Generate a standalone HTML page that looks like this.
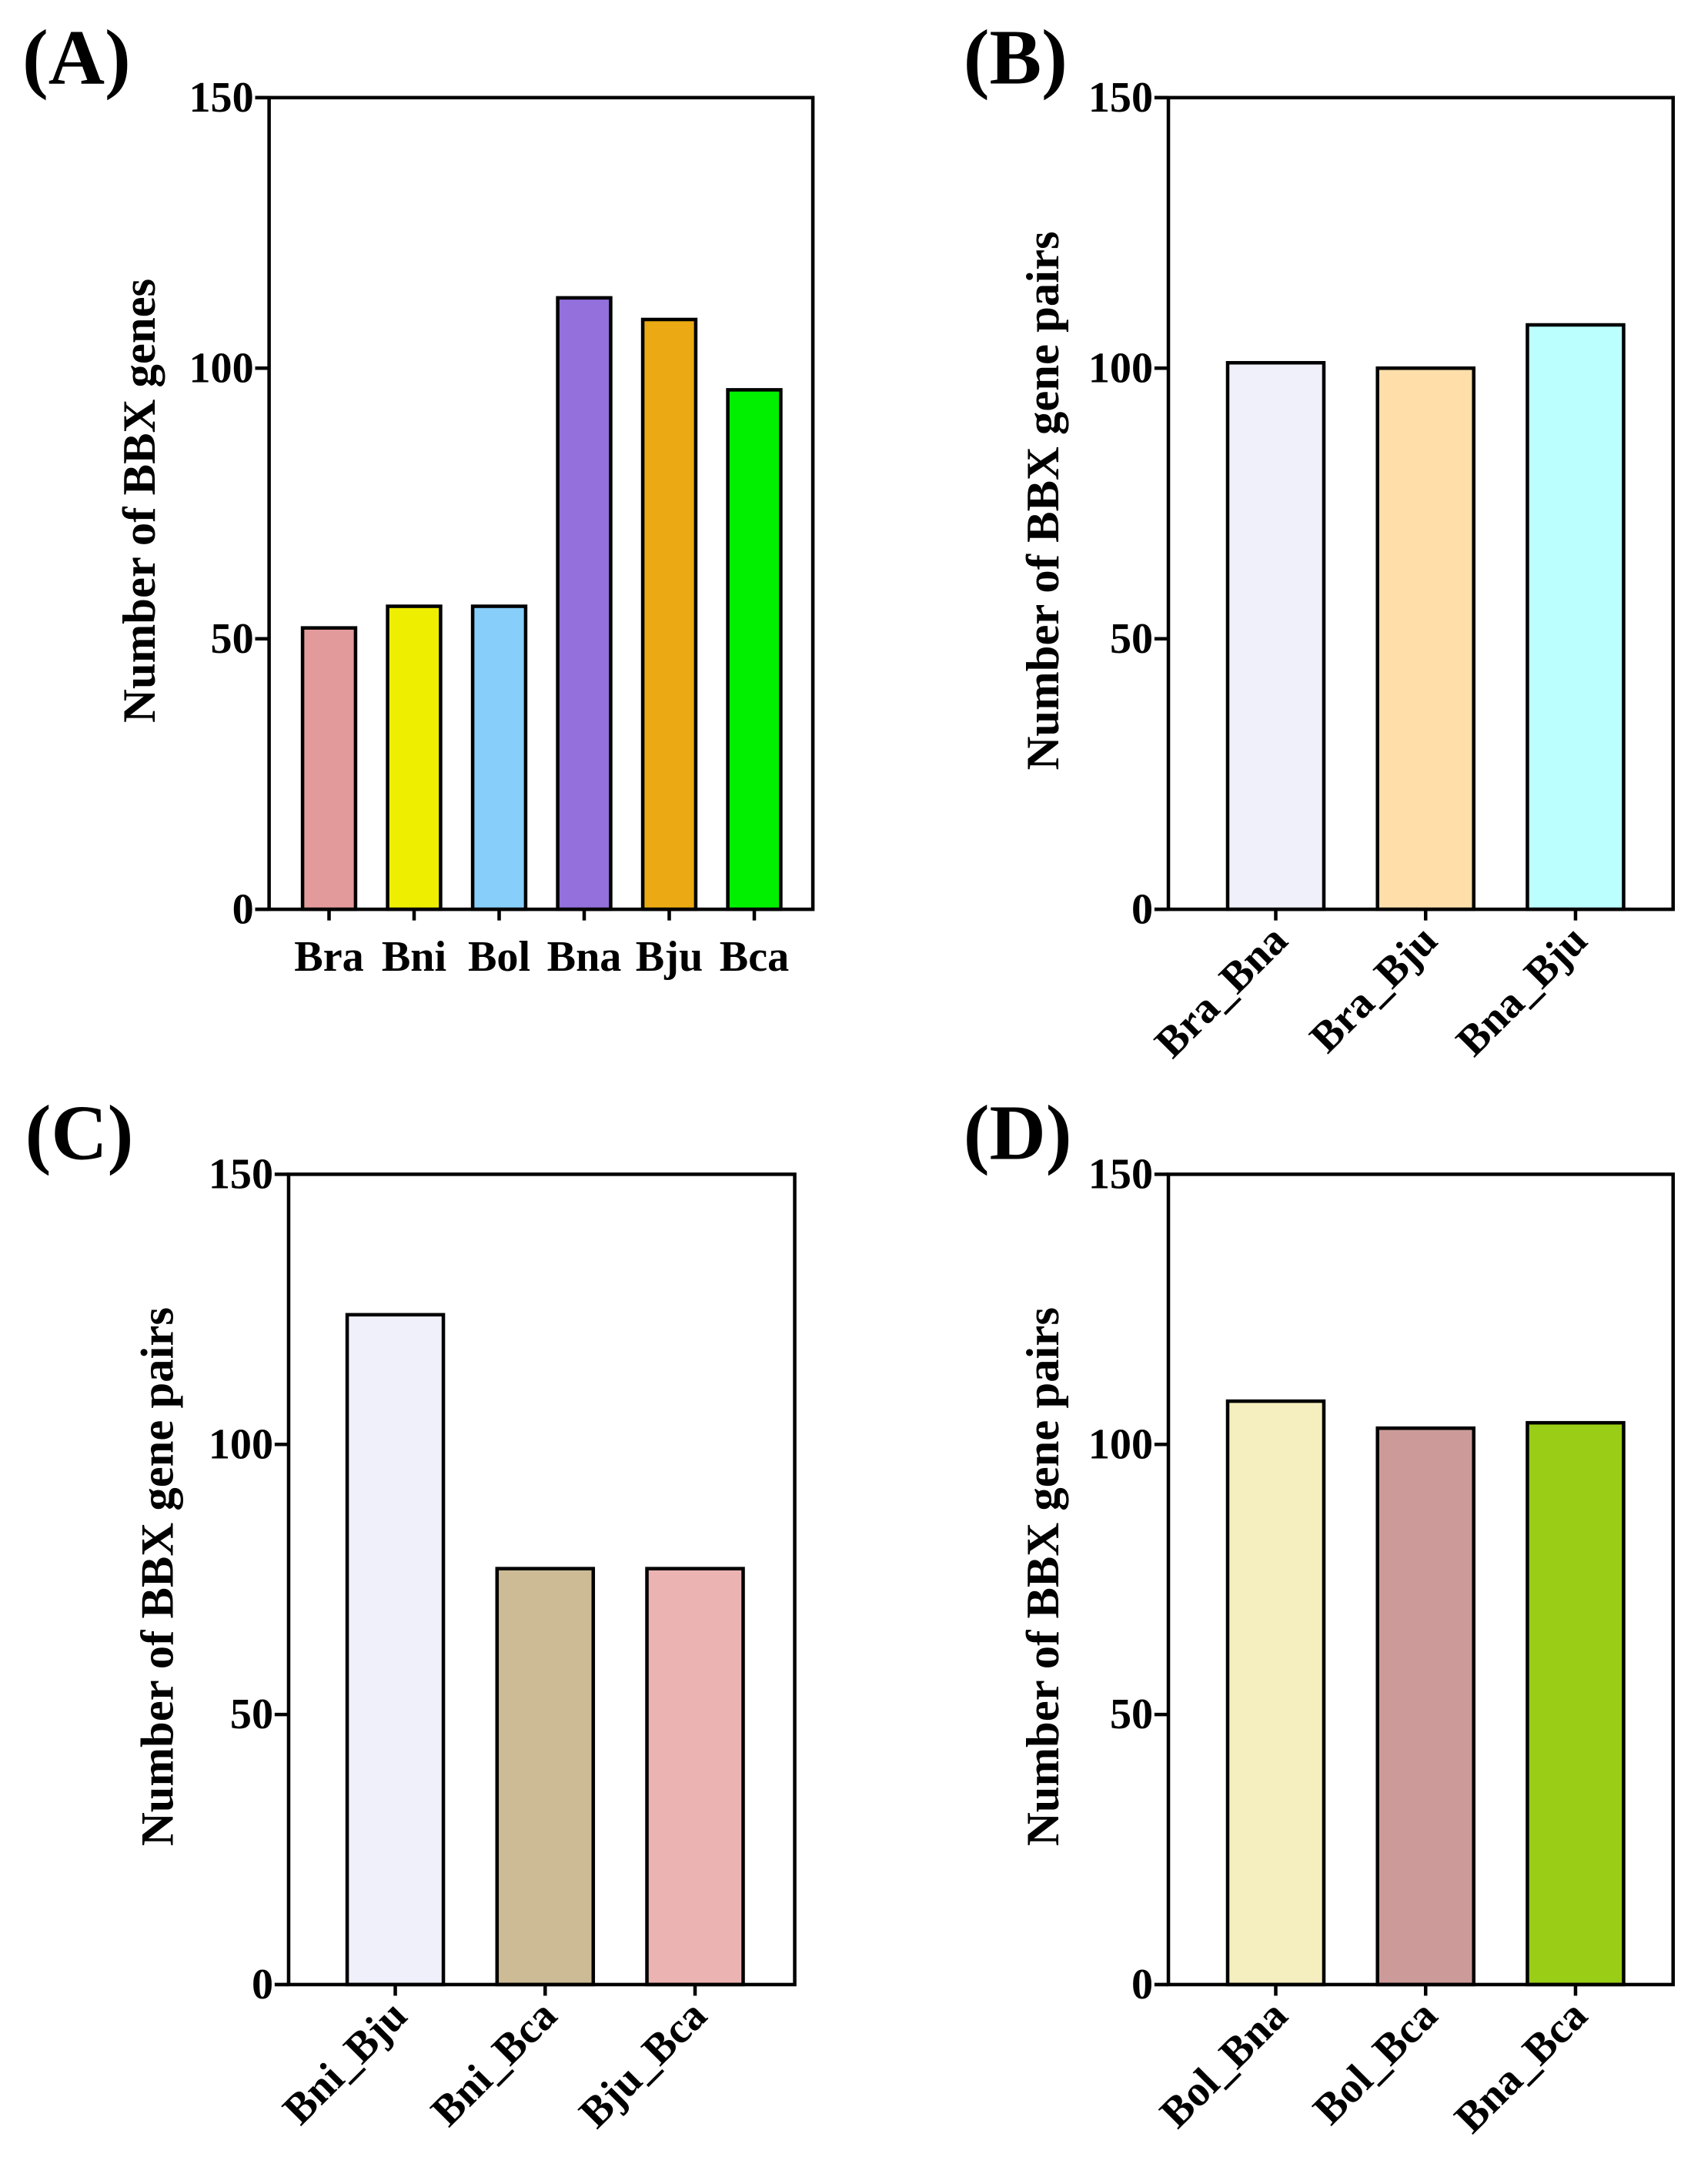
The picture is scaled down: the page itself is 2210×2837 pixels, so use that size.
<!DOCTYPE html>
<html><head><meta charset="utf-8"><style>
html,body{margin:0;padding:0;background:#fff}
svg{display:block}
text{font-family:"Liberation Serif",serif;font-weight:bold;fill:#000}
</style></head><body>
<svg id="fig" width="2210" height="2837" viewBox="0 0 1220 1566" preserveAspectRatio="none"></svg>
<script>
const catsA=["Bra","Bni","Bol","Bna","Bju","Bca"];
const valsA=[52,56,56,113,109,96];
const colsA=["#E39A9A","#EEEE00","#87CEFA","#9370DB","#EBAA14","#00F000"];
const catsB=["Bra_Bna","Bra_Bju","Bna_Bju"];
const valsB=[101,100,108];
const colsB=["#F0F0FA","#FFDEAA","#BBFFFF"];
const catsC=["Bni_Bju","Bni_Bca","Bju_Bca"];
const valsC=[124,77,77];
const colsC=["#F0F0FA","#CDBB96","#ECB3B3"];
const catsD=["Bol_Bna","Bol_Bca","Bna_Bca"];
const valsD=[108,103,104];
const colsD=["#F5EEBE","#CD9A9A","#9ACD15"];
const ticks=[0,50,100,150];
const NS="http://www.w3.org/2000/svg";
const svg=document.getElementById('fig');
function mk(tag,attrs,parent){const e=document.createElementNS(NS,tag);for(const k in attrs)e.setAttribute(k,attrs[k]);(parent||svg).appendChild(e);return e;}
function panel(id,label,lx,ly,L,R,T,B,cats,vals,cols,off,step,bw,rotated,title,titleX){
  const g=mk('g',{});
  
  
  const y=v=>B-(v/150)*(B-T);
  const x=i=>L+off+step*i;
  const pl=mk('text',{x:lx,y:ly,'font-size':56},g);pl.textContent=label;
  
  
  vals.forEach((v,i)=>{
    const r=mk('rect',{x:x(i)-bw/2,y:y(v),width:bw,height:B-y(v),fill:cols[i],stroke:'#000','stroke-width':2.5},g);
    
    
    mk('line',{x1:x(i),x2:x(i),y1:B,y2:B+8,stroke:'#000','stroke-width':2.5},g);
    let t;
    if(rotated){
      t=mk('text',{x:x(i)+10,y:B+24,'font-size':31,'text-anchor':'end',transform:`rotate(-45 ${x(i)+10} ${B+24})`},g);
    }else{
      t=mk('text',{x:x(i),y:B+44,'font-size':31,'text-anchor':'middle'},g);
    }
    t.textContent=cats[i];
    
    
  });
  const frame=mk('rect',{x:L,y:T,width:R-L,height:B-T,fill:'none',stroke:'#000','stroke-width':2.5},g);
  
  
  ticks.forEach(tv=>{
    mk('line',{x1:L-10,x2:L,y1:y(tv),y2:y(tv),stroke:'#000','stroke-width':2.5},g);
    const t=mk('text',{x:L-11,y:y(tv)+10,'font-size':31,'text-anchor':'end'},g);
    t.textContent=tv;
    
    
  });
  const cy=(T+B)/2+70-T>0?(T+B)/2-2:(T+B)/2;
  const tt=mk('text',{x:titleX,y:cy,'font-size':33.5,'text-anchor':'middle',transform:`rotate(-90 ${titleX} ${cy})`},g);
  tt.textContent=title;
  
  
}
panel('a','(A)',16,60,193,583,70,652,catsA,valsA,colsA,43,61,38,false,'Number of BBX genes',111);
panel('b','(B)',691,60,838,1200,70,652,catsB,valsB,colsB,77,107.5,69,true,'Number of BBX gene pairs',759);
panel('c','(C)',18,831,207,570,842,1423,catsC,valsC,colsC,76.5,107.5,69,true,'Number of BBX gene pairs',124);
panel('d','(D)',691,831,838,1200,842,1423,catsD,valsD,colsD,77,107.5,69,true,'Number of BBX gene pairs',759);
</script>
</body></html>
